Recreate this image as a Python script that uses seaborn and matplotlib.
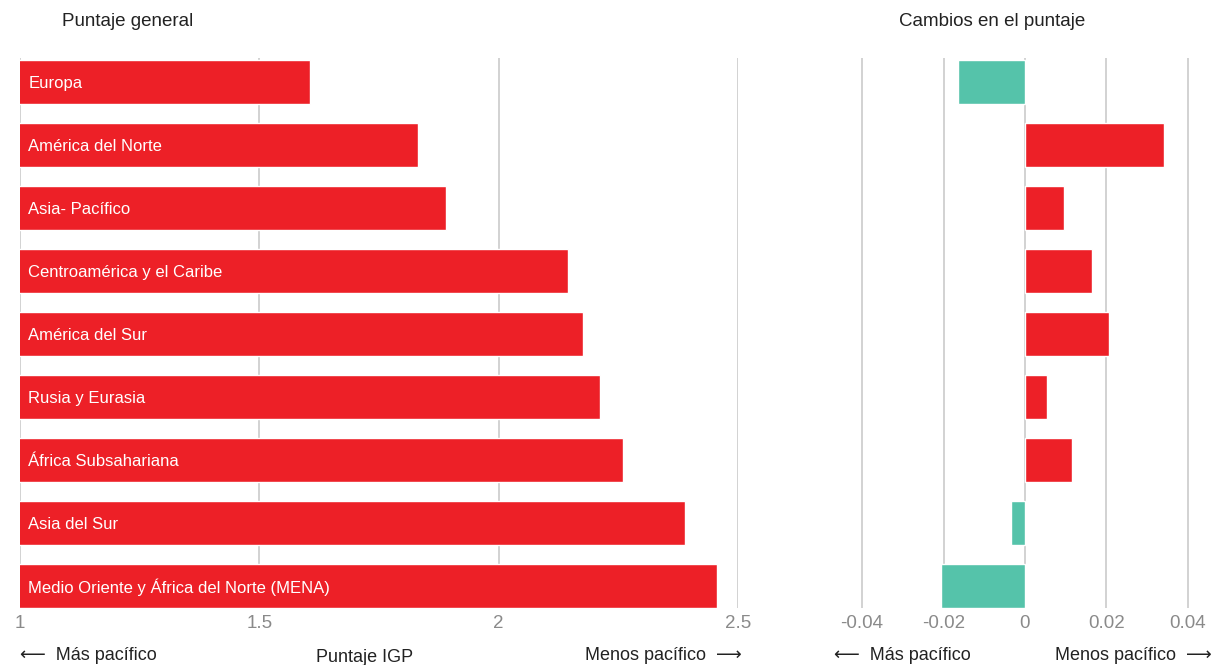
import matplotlib
matplotlib.use('Agg')
import matplotlib.pyplot as plt
import seaborn as sns
import pandas as pd

regions = ['Europa', 'América del Norte', 'Asia- Pacífico', 'Centroamérica y el Caribe',
           'América del Sur', 'Rusia y Eurasia', 'África Subsahariana', 'Asia del Sur',
           'Medio Oriente y África del Norte (MENA)']
score = [1.605, 1.831, 1.889, 2.144, 2.177, 2.211, 2.259, 2.390, 2.457]
change = [-0.0165, 0.0342, 0.0095, 0.0165, 0.0206, 0.0053, 0.0116, -0.0034, -0.0206]

left_ticks = [1, 1.5, 2, 2.5]
right_ticks = [-0.04, -0.02, 0, 0.02, 0.04]

RED = '#ED2027'
TEAL = '#55C3AA'
GRID = '#cfcfcf'
TICK = '#8a8a8a'

df = pd.DataFrame({'region': regions, 'score': score, 'change': change})
df['dir'] = ['neg' if c < 0 else 'pos' for c in df['change']]

sns.set_theme(style='white')
plt.rcParams['font.family'] = ['Liberation Sans', 'DejaVu Sans']

fig = plt.figure(figsize=(12.14, 6.65), dpi=100)
ax1 = fig.add_axes([20 / 1214, 1 - 608 / 665, 718 / 1214, 550 / 665])
ax2 = fig.add_axes([860 / 1214, 1 - 608 / 665, 330 / 1214, 550 / 665])

# left panel: overall score
sns.barplot(data=df, x='score', y='region', color=RED, width=0.7, ax=ax1,
            orient='h', saturation=1, zorder=3)
ax1.set_xlim(1, 2.5)
ax1.set_xticks(left_ticks)
ax1.set_xticklabels(['1', '1.5', '2', '2.5'])
for i, r in enumerate(regions):
    ax1.text(1.017, i, r, color='white', fontsize=12, va='center_baseline', ha='left', zorder=4)

# right panel: change in score
sns.barplot(data=df, x='change', y='region', hue='dir', palette={'neg': TEAL, 'pos': RED},
            width=0.7, ax=ax2, orient='h', saturation=1, legend=False, dodge=False, zorder=3)
ax2.set_xlim(-0.0405, 0.0405)
ax2.set_xticks(right_ticks)
ax2.set_xticklabels(['-0.04', '-0.02', '0', '0.02', '0.04'])

for ax in (ax1, ax2):
    ax.set_ylim(len(regions) - 0.65, -0.38)
    ax.set_yticks([])
    ax.set_xlabel('')
    ax.set_ylabel('')
    for s in ax.spines.values():
        s.set_visible(False)
    ax.grid(axis='x', color=GRID, linewidth=1.3, zorder=0)
    ax.set_axisbelow(True)
    ax.tick_params(axis='x', length=0, pad=5, labelsize=13.5, labelcolor=TICK)

ax1.text(0.058, 1.067, 'Puntaje general', transform=ax1.transAxes, fontsize=13.5,
         color='#222222', ha='left', va='center')
ax2.text(0.4, 1.067, 'Cambios en el puntaje', transform=ax2.transAxes, fontsize=13.5,
         color='#222222', ha='center', va='center')

fig.text(20 / 1214, 1 - 655 / 665, '⟵  Más pacífico', fontsize=13, color='#222222',
         ha='left', va='center')
fig.text(365 / 1214, 1 - 657 / 665, 'Puntaje IGP', fontsize=13, color='#222222',
         ha='center', va='center')
fig.text(742 / 1214, 1 - 655 / 665, 'Menos pacífico  ⟶', fontsize=13, color='#222222',
         ha='right', va='center')
fig.text(834 / 1214, 1 - 655 / 665, '⟵  Más pacífico', fontsize=13, color='#222222',
         ha='left', va='center')
fig.text(1212 / 1214, 1 - 655 / 665, 'Menos pacífico  ⟶', fontsize=13, color='#222222',
         ha='right', va='center')

fig.savefig('out.png', dpi=100)
